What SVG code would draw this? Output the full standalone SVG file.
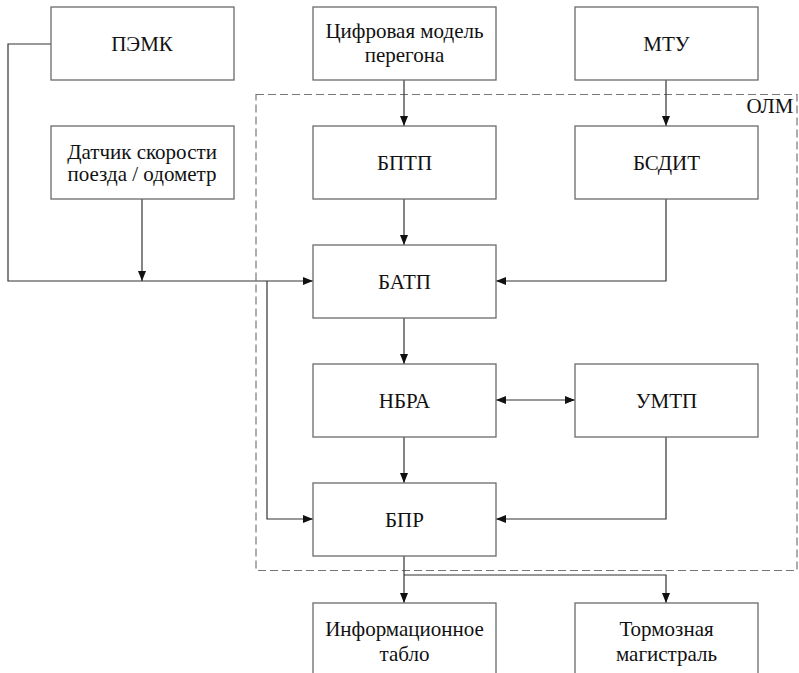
<svg xmlns="http://www.w3.org/2000/svg" width="799" height="673" viewBox="0 0 799 673">
<defs>
<marker id="a" viewBox="0 0 10 8" refX="10" refY="4" markerWidth="10" markerHeight="8" markerUnits="userSpaceOnUse" orient="auto-start-reverse">
<path d="M0,0 L10,4 L0,8 Z" fill="#111"/>
</marker>
<rect id="bx" width="183" height="73" fill="#fff" stroke="#6b6b6b" stroke-width="1.3"/>
</defs>
<rect x="256" y="94.5" width="541" height="476" fill="none" stroke="#777" stroke-width="1.2" stroke-dasharray="8,4"/>
<text x="770" y="113" font-family="Liberation Serif" font-size="21" fill="#111" text-anchor="middle">ОЛМ</text>
<g id="connectors" fill="none" stroke="#333" stroke-width="1.2">
<polyline points="51,44 8,44 8,281 313,281" marker-end="url(#a)"/>
<line x1="142" y1="199" x2="142" y2="281" marker-end="url(#a)"/>
<polyline points="267,281 267,519 313,519" marker-end="url(#a)"/>
<line x1="404" y1="80" x2="404" y2="126" marker-end="url(#a)"/>
<line x1="666" y1="80" x2="666" y2="126" marker-end="url(#a)"/>
<line x1="404" y1="199" x2="404" y2="245" marker-end="url(#a)"/>
<polyline points="666,199 666,281 496,281" marker-end="url(#a)"/>
<line x1="404" y1="318" x2="404" y2="364" marker-end="url(#a)"/>
<line x1="496" y1="400" x2="575" y2="400" marker-start="url(#a)" marker-end="url(#a)"/>
<line x1="404" y1="437" x2="404" y2="483" marker-end="url(#a)"/>
<polyline points="666,437 666,519 496,519" marker-end="url(#a)"/>
<line x1="404" y1="556" x2="404" y2="603" marker-end="url(#a)"/>
<polyline points="404,575 666,575 666,603" marker-end="url(#a)"/>
</g>
<g id="pemk"><use href="#bx" x="51" y="7"/><text x="142" y="51" font-family="Liberation Serif" font-size="21" fill="#111" text-anchor="middle">ПЭМК</text></g>
<g id="cmp"><use href="#bx" x="313" y="7"/><text x="404.5" y="38" font-family="Liberation Serif" font-size="21" fill="#111" text-anchor="middle">Цифровая модель</text><text x="404.5" y="62" font-family="Liberation Serif" font-size="21" fill="#111" text-anchor="middle">перегона</text></g>
<g id="mtu"><use href="#bx" x="575" y="7"/><text x="666.5" y="51" font-family="Liberation Serif" font-size="21" fill="#111" text-anchor="middle">МТУ</text></g>
<g id="datchik"><use href="#bx" x="51" y="126"/><text x="142" y="159" font-family="Liberation Serif" font-size="21" fill="#111" text-anchor="middle">Датчик скорости</text><text x="142" y="181" font-family="Liberation Serif" font-size="21" fill="#111" text-anchor="middle">поезда / одометр</text></g>
<g id="bptp"><use href="#bx" x="313" y="126"/><text x="404.5" y="170" font-family="Liberation Serif" font-size="21" fill="#111" text-anchor="middle">БПТП</text></g>
<g id="bsdit"><use href="#bx" x="575" y="126"/><text x="666.5" y="170" font-family="Liberation Serif" font-size="21" fill="#111" text-anchor="middle">БСДИТ</text></g>
<g id="batp"><use href="#bx" x="313" y="245"/><text x="404.5" y="289" font-family="Liberation Serif" font-size="21" fill="#111" text-anchor="middle">БАТП</text></g>
<g id="nbra"><use href="#bx" x="313" y="364"/><text x="404.5" y="408" font-family="Liberation Serif" font-size="21" fill="#111" text-anchor="middle">НБРА</text></g>
<g id="umtp"><use href="#bx" x="575" y="364"/><text x="666.5" y="408" font-family="Liberation Serif" font-size="21" fill="#111" text-anchor="middle">УМТП</text></g>
<g id="bpr"><use href="#bx" x="313" y="483"/><text x="404.5" y="527" font-family="Liberation Serif" font-size="21" fill="#111" text-anchor="middle">БПР</text></g>
<g id="tablo"><use href="#bx" x="313" y="603"/><text x="404.5" y="636" font-family="Liberation Serif" font-size="21" fill="#111" text-anchor="middle">Информационное</text><text x="404.5" y="661" font-family="Liberation Serif" font-size="21" fill="#111" text-anchor="middle">табло</text></g>
<g id="tm"><use href="#bx" x="575" y="603"/><text x="666.5" y="636" font-family="Liberation Serif" font-size="21" fill="#111" text-anchor="middle">Тормозная</text><text x="666.5" y="661" font-family="Liberation Serif" font-size="21" fill="#111" text-anchor="middle">магистраль</text></g>
</svg>
